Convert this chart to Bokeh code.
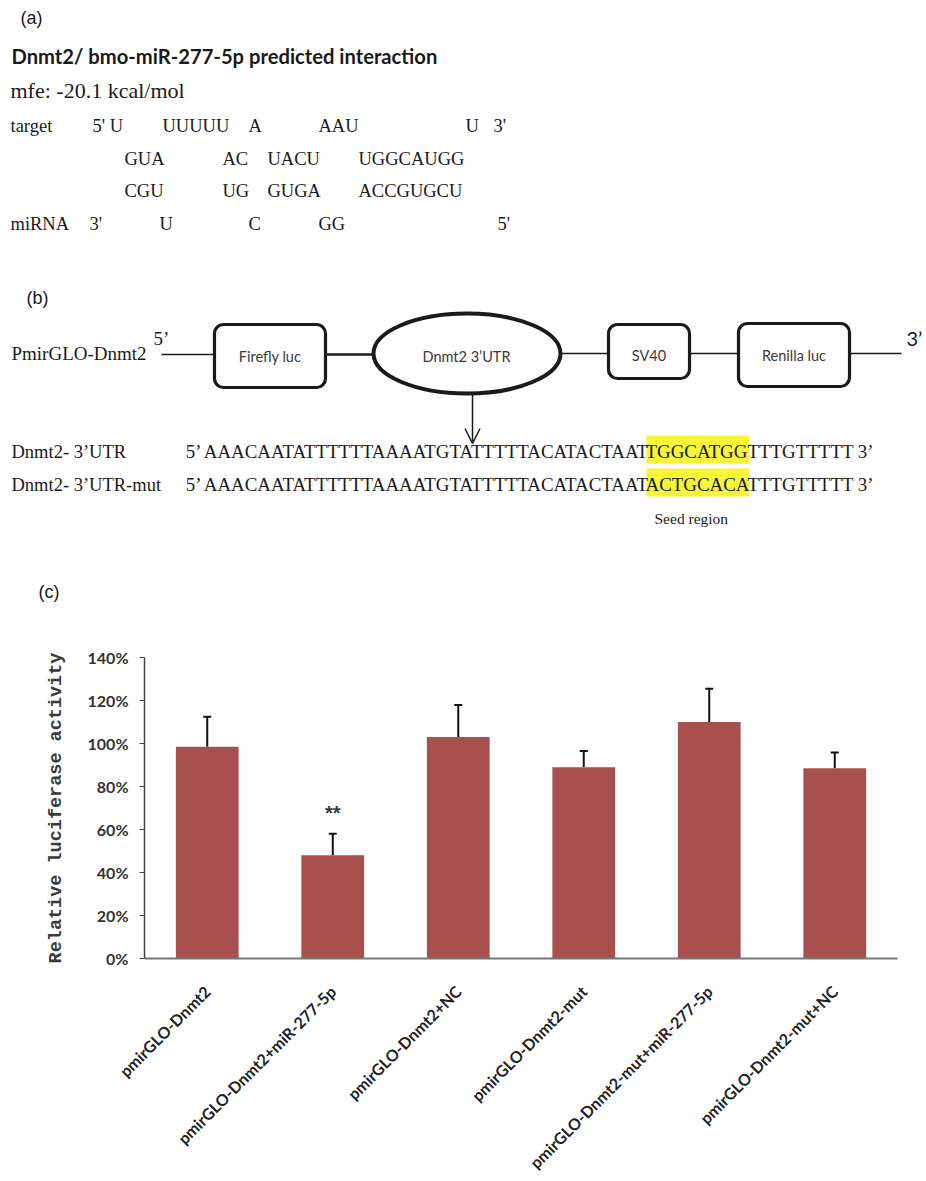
import math
from bokeh.plotting import figure
from bokeh.models import (Range1d, FactorRange, FixedTicker, NumeralTickFormatter,
                          Whisker, TeeHead, ColumnDataSource, BoxAnnotation, Arrow, OpenHead)
from bokeh.core.properties import value
from bokeh.embed import file_html
from bokeh.resources import INLINE

# ---------------- data: panel (c) ----------------
categories = ["pmirGLO-Dnmt2", "pmirGLO-Dnmt2+miR-277-5p", "pmirGLO-Dnmt2+NC",
              "pmirGLO-Dnmt2-mut", "pmirGLO-Dnmt2-mut+miR-277-5p", "pmirGLO-Dnmt2-mut+NC"]
activity = [0.985, 0.48, 1.03, 0.89, 1.10, 0.885]
error = [0.139, 0.10, 0.149, 0.075, 0.155, 0.073]
significance = ["", "**", "", "", "", ""]
y_ticks = [0, 0.2, 0.4, 0.6, 0.8, 1.0, 1.2, 1.4]
y_label = "Relative luciferase activity"

# ---------------- data: panel (a) ----------------
panel_labels = ["(a)", "(b)", "(c)"]
title_a = "Dnmt2/ bmo-miR-277-5p predicted interaction"
mfe_text = "mfe: -20.1 kcal/mol"
duplex_rows = [
    ["target", "5' U", "UUUUU", "A", "AAU", "U", "3'"],
    ["GUA", "AC", "UACU", "UGGCAUGG"],
    ["CGU", "UG", "GUGA", "ACCGUGCU"],
    ["miRNA", "3'", "U", "C", "GG", "5'"],
]

# ---------------- data: panel (b) ----------------
construct_name = "PmirGLO-Dnmt2"
elements = ["Firefly luc", "Dnmt2 3\u2019UTR", "SV40", "Renilla luc"]
seq_labels = ["Dnmt2- 3\u2019UTR", "Dnmt2- 3\u2019UTR-mut"]
seq_up = "AAACAATATTTTTTAAAATGTATTTTTACATACTAAT"
seeds = ["TGGCATGG", "ACTGCACA"]
seq_down = "TTTGTTTTT"
seed_caption = "Seed region"

# ---------------- layout (positions in page pixels) ----------------
panel_label_pos = [(20, 17), (26, 297), (38, 591)]
duplex_x = [
    [10, 92, 162, 248, 318, 465, 493],
    [124, 222, 267, 358],
    [124, 222, 267, 358],
    [10, 89, 159, 248, 318, 497],
]
duplex_y = [125, 158, 190, 223]
seq_y = [451, 484]
seed_left, seed_right = 646, 749

INK = "#1a1a1a"
TOP_H = 615

p1 = figure(width=926, height=TOP_H, x_range=Range1d(0, 926), y_range=Range1d(TOP_H, 0),
            output_backend="svg", toolbar_location=None,
            x_axis_location=None, y_axis_location=None, min_border=0)
p1.outline_line_color = None
p1.xgrid.visible = False
p1.ygrid.visible = False

def txt(p, xs, ys, texts, font, size, style="normal", color=INK, align="left"):
    p.text(x=xs, y=ys, text=texts, text_font=value(font), text_font_size=size,
           text_font_style=style, text_color=color, text_align=align,
           text_baseline="middle")

# panel labels
txt(p1, [q[0] for q in panel_label_pos], [q[1] for q in panel_label_pos], panel_labels,
    "Liberation Sans", "18px")

# panel (a)
txt(p1, [11], [55], [title_a], "Lato", "20.2px", "bold")
txt(p1, [10], [90], [mfe_text], "Liberation Serif", "22px")
for row, xs, yy in zip(duplex_rows, duplex_x, duplex_y):
    txt(p1, xs, [yy] * len(row), row, "Liberation Serif", "18.5px")

# panel (b) construct map
txt(p1, [11], [353], [construct_name], "Liberation Serif", "19px")
txt(p1, [153], [338], ["5\u2019"], "Liberation Serif", "19px")
txt(p1, [906], [337], ["3\u2019"], "Lato", "20px")
p1.segment(x0=[161, 560, 689, 849], y0=[354, 353, 353, 353],
           x1=[214, 608, 738, 901], y1=[354, 353, 353, 353],
           line_color=INK, line_width=1.5)
p1.segment(x0=[325], y0=[354], x1=[373], y1=[354], line_color=INK, line_width=2.5)
for (l, r, t, b) in [(214, 325, 324, 387), (608, 689, 324, 378), (738, 849, 323, 386)]:
    p1.add_layout(BoxAnnotation(left=l, right=r, top=t, bottom=b, border_radius=9,
                                fill_alpha=0, fill_color=None, line_color=INK,
                                line_alpha=1.0, line_width=3.2))
p1.ellipse(x=[466.5], y=[353], width=[187], height=[80], fill_color=None,
           line_color=INK, line_width=4)
txt(p1, [269.5, 466, 648.5, 793.5], [356, 356, 355, 355], elements, "Lato", "14.5px",
    color="#3a3a3a", align="center")
p1.add_layout(Arrow(end=OpenHead(size=15, line_width=1.5, line_color=INK),
                    x_start=472, y_start=393, x_end=472, y_end=443,
                    line_width=1.5, line_color=INK))

# sequences: highlighted seed, upstream part ends at the seed, downstream after it
p1.quad(left=[seed_left] * 2, right=[seed_right] * 2,
        top=[y - 16 for y in seq_y], bottom=[y + 12 for y in seq_y],
        fill_color="#F8F438", line_color=None)
txt(p1, [11, 11], seq_y, seq_labels, "Liberation Serif", "18.5px")
SEQ_FS = "18.9px"
txt(p1, [seed_left + 4] * 2, seq_y, ["5\u2019 " + seq_up] * 2, "Liberation Serif",
    SEQ_FS, align="right")
txt(p1, [seed_left - 1] * 2, seq_y, seeds, "Liberation Serif", SEQ_FS)
txt(p1, [seed_right - 2] * 2, seq_y, [seq_down + " 3\u2019"] * 2, "Liberation Serif",
    SEQ_FS)
txt(p1, [654], [518], [seed_caption], "Liberation Serif", "15.5px")

# ---------------- panel (c) bar chart ----------------
p2 = figure(width=926, height=1181 - TOP_H, x_range=FactorRange(factors=categories),
            y_range=Range1d(0, 1.4), output_backend="svg", toolbar_location=None,
            min_border_left=144, min_border_right=29, min_border_top=657 - TOP_H,
            min_border_bottom=1181 - 965)
p2.outline_line_color = None
p2.xgrid.visible = False
p2.ygrid.visible = False

src = ColumnDataSource(data=dict(x=categories, top=activity,
                                 upper=[a + e for a, e in zip(activity, error)]))
p2.vbar(x="x", top="top", width=0.5, source=src, fill_color="#A8504E", line_color=None)
p2.add_layout(Whisker(base="x", lower="top", upper="upper", source=src,
                      dimension="height", line_color="#111", line_width=2,
                      upper_head=TeeHead(size=8, line_width=2, line_color="#111"),
                      lower_head=None))
sig_x = [c for c, s in zip(categories, significance) if s]
sig_y = [a + e + 0.097 for a, e, s in zip(activity, error, significance) if s]
sig_t = [s for s in significance if s]
p2.text(x=sig_x, y=sig_y, text=sig_t, text_font=value("Liberation Sans"),
        text_font_size="20px", text_font_style="bold", text_color="#3a3a3a",
        text_align="center", text_baseline="middle")

xa = p2.xaxis[0]
xa.major_label_orientation = math.pi / 4
xa.major_tick_line_color = None
xa.minor_tick_line_color = None
xa.axis_line_color = "#777"
xa.axis_line_width = 2
xa.major_label_text_font = "Lato"
xa.major_label_text_font_style = "bold"
xa.major_label_text_font_size = "16px"
xa.major_label_text_color = "#222"
xa.major_label_standoff = 24

ya = p2.yaxis[0]
ya.ticker = FixedTicker(ticks=y_ticks)
ya.formatter = NumeralTickFormatter(format="0%")
ya.major_tick_out = 5
ya.major_tick_in = 0
ya.minor_tick_line_color = None
ya.axis_line_color = "#444"
ya.axis_line_width = 1.5
ya.major_tick_line_color = "#444"
ya.major_label_text_font = "Lato"
ya.major_label_text_font_style = "bold"
ya.major_label_text_font_size = "16px"
ya.major_label_text_color = "#333"
ya.major_label_standoff = 11
ya.axis_label = y_label
ya.axis_label_text_font = "Liberation Mono"
ya.axis_label_text_font_size = "18.5px"
ya.axis_label_text_font_style = "bold"
ya.axis_label_text_color = "#3a3a3a"
ya.axis_label_standoff = 18

open("out.html", "w").write(file_html([p1, p2], INLINE))
